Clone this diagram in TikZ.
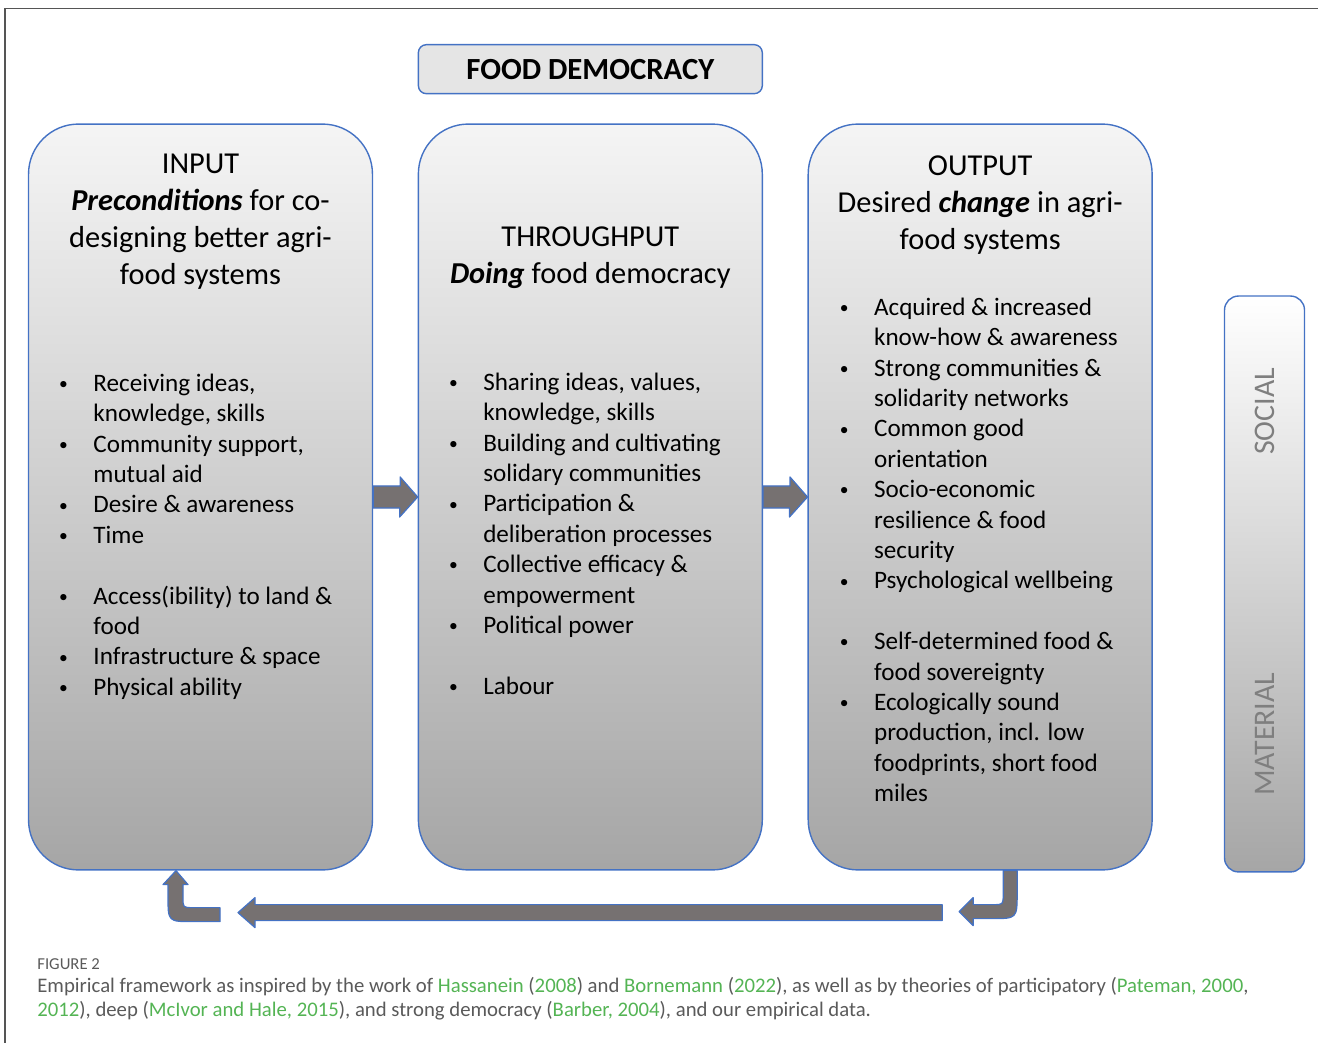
\documentclass[tikz,border=0pt]{standalone}
\usepackage{fontspec}
\setmainfont{Carlito}
\usetikzlibrary{positioning}
\usetikzlibrary{calc}

\definecolor{boxblue}{HTML}{4472C4}
\definecolor{arrowgray}{HTML}{767171}
\definecolor{framegray}{HTML}{555555}
\definecolor{captiongray}{HTML}{5A5A5A}
\definecolor{citegreen}{HTML}{54B454}
\definecolor{labelgray}{HTML}{7F7F7F}

\newcommand{\lnk}[1]{\textcolor{citegreen}{#1}}
\newcommand{\dotitem}{\raisebox{1pt}{\fontsize{10}{10}\selectfont\textbullet}}

\tikzset{
  stage/.style={draw=boxblue, line width=0.8pt, rounded corners=1cm,
    top color=black!4, bottom color=black!35,
    minimum width=6.88cm, minimum height=14.92cm, inner sep=0pt},
  titlebox/.style={draw=boxblue, line width=0.8pt, rounded corners=0.16cm,
    fill=black!10, minimum width=6.88cm, minimum height=0.98cm,
    font=\fontsize{17.5}{21}\selectfont\bfseries},
  scalebar/.style={draw=boxblue, line width=0.8pt, rounded corners=0.28cm,
    top color=white, middle color=white, bottom color=black!35,
    minimum width=1.6cm, minimum height=11.52cm, inner sep=0pt},
  heading/.style={anchor=base, inner sep=0pt, font=\fontsize{17.3}{21}\selectfont},
  bullets/.style={anchor=base west, inner sep=0pt, font=\fontsize{14.3}{17.3}\selectfont},
  scalelabel/.style={rotate=90, text=labelgray, font=\fontsize{17}{20}\selectfont},
  blockarr/.style={draw=boxblue, line width=0.7pt, fill=arrowgray, line join=round},
}

\begin{document}
\begin{tikzpicture}[x=0.02cm, y=-0.02cm]
    \useasboundingbox (0,0) rectangle (1318,1043);
    \draw[framegray, line width=1pt] (5,1043) -- (5,8.5) -- (1318,8.5);

    % the three stages
    \node[stage] (in) at (200.5,497) {};
    \node[stage, right=0.89cm of in] (thru) {};
    \node[stage, right=0.89cm of thru] (out) {};
    \node[titlebox, above=0.58cm of thru] (demo) {FOOD DEMOCRACY};
    \node[scalebar, right=1.42cm of out, yshift=-1.74cm] (dim) {};
    \node[scalelabel] (soc) at ($(dim.north)+(0,116)$) {SOCIAL};
    \node[scalelabel] (mat) at ($(dim.north)+(0,439)$) {MATERIAL};

    % headings
    \node[heading] (inhead) at ($(in.north)+(0,50)$) {\begin{tabular}[t]{@{}c@{}}
        INPUT\\
        \textbf{\textit{Preconditions}} for co-\\
        designing better agri-\\
        food systems\end{tabular}};
    \node[heading] (thruhead) at ($(thru.north)+(0,123)$) {\begin{tabular}[t]{@{}c@{}}
        THROUGHPUT\\
        \textbf{\textit{Doing}} food democracy\end{tabular}};
    \node[heading] (outhead) at ($(out.north)+(0,52)$) {\begin{tabular}[t]{@{}c@{}}
        OUTPUT\\
        Desired \textbf{\textit{change}} in agri-\\
        food systems\end{tabular}};

    % bullet lists
    \node[bullets] (inlist) at ($(in.north west)+(31,268)$) {\begin{tabular}[t]{@{}p{19.5pt}@{}l@{}}
        \dotitem & Receiving ideas,\\
                 & knowledge, skills\\
        \dotitem & Community support,\\
                 & mutual aid\\
        \dotitem & Desire \& awareness\\
        \dotitem & Time\\
                 & \\
        \dotitem & Access(ibility) to land \&\\
                 & food\\
        \dotitem & Infrastructure \& space\\
        \dotitem & Physical ability\end{tabular}};
    \node[bullets] (thrulist) at ($(thru.north west)+(31,267)$) {\begin{tabular}[t]{@{}p{19.5pt}@{}l@{}}
        \dotitem & Sharing ideas, values,\\
                 & knowledge, skills\\
        \dotitem & Building and cultivating\\
                 & solidary communities\\
        \dotitem & Participation \&\\
                 & deliberation processes\\
        \dotitem & Collective efficacy \&\\
                 & empowerment\\
        \dotitem & Political power\\
                 & \\
        \dotitem & Labour\end{tabular}};
    \node[bullets] (outlist) at ($(out.north west)+(32,192)$) {\begin{tabular}[t]{@{}p{19.5pt}@{}l@{}}
        \dotitem & Acquired \& increased\\
                 & know-how \& awareness\\
        \dotitem & Strong communities \&\\
                 & solidarity networks\\
        \dotitem & Common good\\
                 & orientation\\
        \dotitem & Socio-economic\\
                 & resilience \& food\\
                 & security\\
        \dotitem & Psychological wellbeing\\
                 & \\
        \dotitem & Self-determined food \&\\
                 & food sovereignty\\
        \dotitem & Ecologically sound\\
                 & production, incl. low\\
                 & foodprints, short food\\
                 & miles\end{tabular}};

    % flow arrows
    \draw[blockarr] ($(in.east)+(0,-11)$) -- ++(27,0) -- ++(0,-9) -- (thru.west)
        -- ++(-18,20) -- ++(0,-9) -- ($(in.east)+(0,11)$) -- cycle;
    \draw[blockarr] ($(thru.east)+(0,-11)$) -- ++(27,0) -- ++(0,-9) -- (out.west)
        -- ++(-18,20) -- ++(0,-9) -- ($(thru.east)+(0,11)$) -- cycle;

    % feedback loop
    \coordinate (backR) at ($(out.south)+(-38,42)$);
    \coordinate (backL) at ($(in.south)+(37.5,42)$);
    \draw[blockarr, shift={(out.south)}] (23,0) -- (37,0) -- (37,22) .. controls (37,48) .. (11,48)
        -- (-7,48) -- (-7,55) -- (-21,41) -- (-7,27) -- (-7,34) -- (13,34)
        .. controls (23,34) .. (23,24) -- cycle;
    \draw[blockarr] (backL) -- ++(17,-15) -- ++(0,7) -- ($(backR)+(0,-8)$) -- ++(0,16)
        -- ($(backL)+(17,8)$) -- ++(0,7) -- cycle;
    \draw[blockarr, shift={(in.south)}] (-24.5,0) -- (-12.5,14) -- (-17.5,14) -- (-17.5,27)
        .. controls (-17.5,37) .. (-7.5,37) -- (19.5,37) -- (19.5,51) -- (-7.5,51)
        .. controls (-32.5,51) .. (-32.5,26) -- (-32.5,14) -- (-37.5,14) -- cycle;

    % caption
    \node[anchor=base west, inner sep=0pt, text=captiongray, font=\fontsize{9.5}{11}\selectfont] (fig) at (37,969) {FIGURE 2};
    \node[anchor=base west, inner sep=0pt, text=captiongray, font=\fontsize{11.8}{13.8}\selectfont] (cap) at (37,992) {\begin{tabular}[t]{@{}l@{}}
        Empirical framework as inspired by the work of \lnk{Hassanein} (\lnk{2008}) and \lnk{Bornemann} (\lnk{2022}), as well as by theories of participatory (\lnk{Pateman, 2000},\\
        \lnk{2012}), deep (\lnk{McIvor and Hale, 2015}), and strong democracy (\lnk{Barber, 2004}), and our empirical data.\end{tabular}};
\end{tikzpicture}
\end{document}
